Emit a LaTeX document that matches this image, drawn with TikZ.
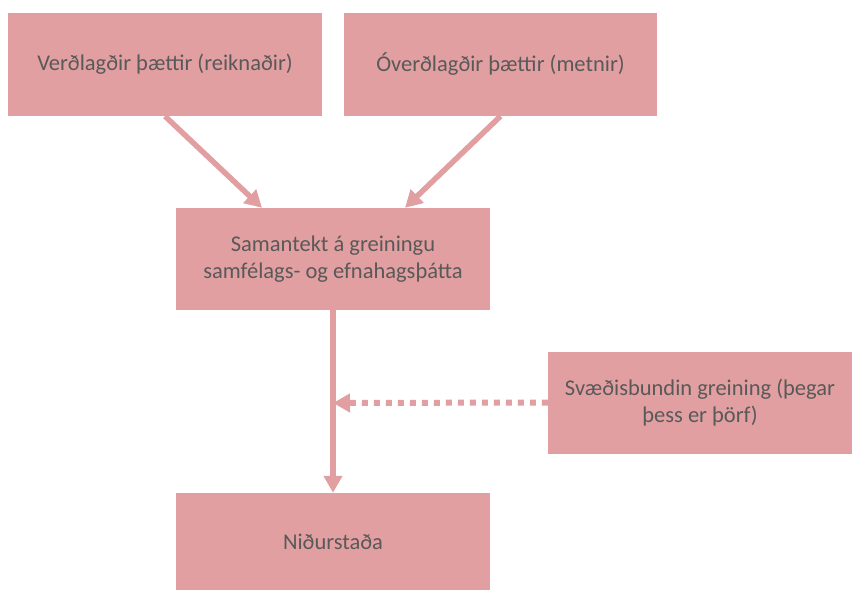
\documentclass[tikz,border=0pt]{standalone}
\usepackage{fontspec}
\setmainfont{Carlito}
\usetikzlibrary{arrows.meta,calc}
\definecolor{boxfill}{HTML}{E29FA1}
\definecolor{txt}{HTML}{595959}
\begin{document}
\begin{tikzpicture}[x=1pt,y=-1pt,
  box/.style={fill=boxfill,draw=none,inner sep=0pt,text=txt,font=\fontsize{22.5}{27}\selectfont,align=center},
  conn/.style={draw=boxfill,line width=5.5pt,-{Triangle[width=18pt,length=17pt]}},
  dotconn/.style={draw=boxfill,line width=6pt,dash pattern=on 6pt off 6pt,-{Triangle[width=18pt,length=17pt]}}]
\useasboundingbox (0,0) rectangle (852,590);
\node[box,minimum width=314pt,minimum height=103pt] (b1) at (165,64.5) {Verðlagðir þættir (reiknaðir)};
\node[box,minimum width=313pt,minimum height=103pt] (b2) at (500.5,64.5) {Óverðlagðir þættir (metnir)};
\node[box,minimum width=314pt,minimum height=102pt] (b3) at (333,259) {Samantekt á greiningu\\samfélags- og efnahagsþátta};
\node[box,minimum width=304pt,minimum height=102pt] (b4) at (700,402.5) {Svæðisbundin greining (þegar\\þess er þörf)};
\node[box,minimum width=314pt,minimum height=97pt] (b5) at (333,541.5) {Niðurstaða};
\coordinate (a1s) at (b1.south);
\coordinate (a1e) at ($(b3.north)+(-71,0)$);
\coordinate (a2s) at (b2.south);
\coordinate (a2e) at ($(b3.north)+(72,0)$);
\coordinate (d1e) at (333,403);
\draw[conn] (a1s) -- (a1e);
\draw[conn] (a2s) -- (a2e);
\draw[conn] (b3.south) -- (b5.north);
\draw[dotconn] (b4.west) -- (d1e);
\end{tikzpicture}
\end{document}
